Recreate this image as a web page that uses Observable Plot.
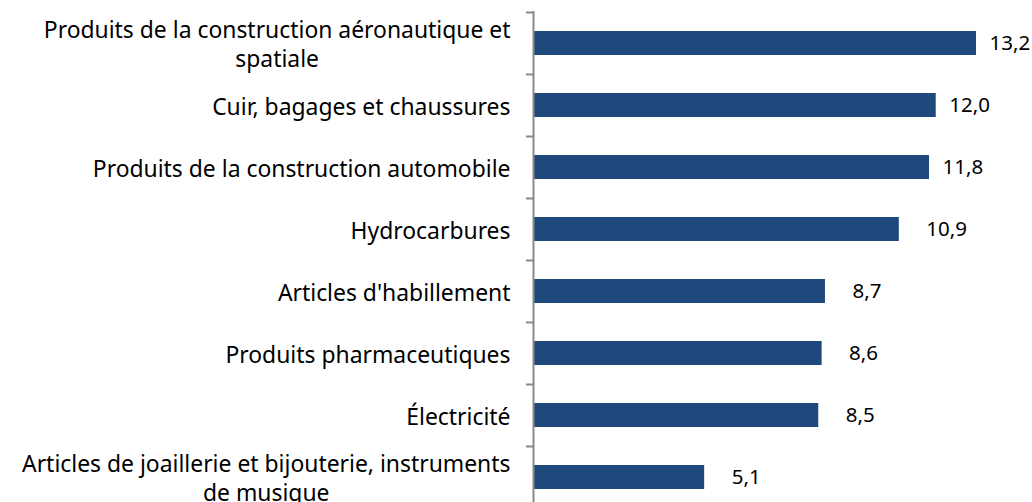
<!DOCTYPE html>
<html><head><meta charset="utf-8">
<script src="https://cdn.jsdelivr.net/npm/d3@7"></script>
<script src="https://cdn.jsdelivr.net/npm/@observablehq/plot@0.6"></script>
<style>body{margin:0;background:#fff;} #chart svg{overflow:visible}</style>
</head><body><div id="chart"></div>
<script>
const categories = [
  "Produits de la construction aéronautique et\nspatiale",
  "Cuir, bagages et chaussures",
  "Produits de la construction automobile",
  "Hydrocarbures",
  "Articles d'habillement",
  "Produits pharmaceutiques",
  "Électricité",
  "Articles de joaillerie et bijouterie, instruments\nde musique"
];
const values = [13.2, 12.0, 11.8, 10.9, 8.7, 8.6, 8.5, 5.1];
const data = categories.map((c, i) => ({category: c, value: values[i]}));
const fmt = d3.formatLocale({decimal: ",", thousands: " ", grouping: [3], currency: ["", "€"]}).format(".1f");
const font = "'Noto Sans', sans-serif";
const axisGray = "#898989";
const chart = Plot.plot({
  width: 1032, height: 502,
  marginTop: 11, marginBottom: 0, marginLeft: 533, marginRight: 0,
  style: {fontFamily: font, fontSize: "20px", color: "#000", background: "#fff", overflow: "visible"},
  x: {domain: [0, 13.2], range: [533, 976], axis: null},
  y: {domain: categories, range: [11, 508], paddingInner: 0.614, paddingOuter: 0.307, axis: null},
  marks: [
    Plot.barX(data, {x: "value", y: "category", fill: "#1f497d"}),
    Plot.ruleX([0], {stroke: axisGray, strokeWidth: 2}),
    Plot.axisY({tickSize: 0, tickPadding: 23, fontSize: 22.9, lineHeight: 1.27, label: null, tickFormat: d => d, fill: "#000"}),
    Plot.axisY({tickSize: 7, tickPadding: 0, label: null, tickFormat: () => "", stroke: axisGray, strokeWidth: 2, dy: -31}),
    Plot.text(data.filter(d => d.value >= 11.5), {x: "value", y: "category", text: d => fmt(d.value), textAnchor: "start", dx: 13, fontSize: 20.5, fill: "#000"}),
    Plot.text(data.filter(d => d.value < 11.5), {x: "value", y: "category", text: d => fmt(d.value), textAnchor: "start", dx: 27, fontSize: 20.5, fill: "#000"})
  ]
});
document.getElementById("chart").appendChild(chart);
// center wrapped lines of multi-line category labels
chart.querySelectorAll("text").forEach(t => {
  const spans = t.querySelectorAll("tspan");
  if (spans.length > 1) {
    const w = Array.from(spans).map(s => s.getComputedTextLength());
    const m = Math.max(...w);
    spans.forEach((s, i) => s.setAttribute("x", -(m - w[i]) / 2));
  }
});
</script></body></html>
